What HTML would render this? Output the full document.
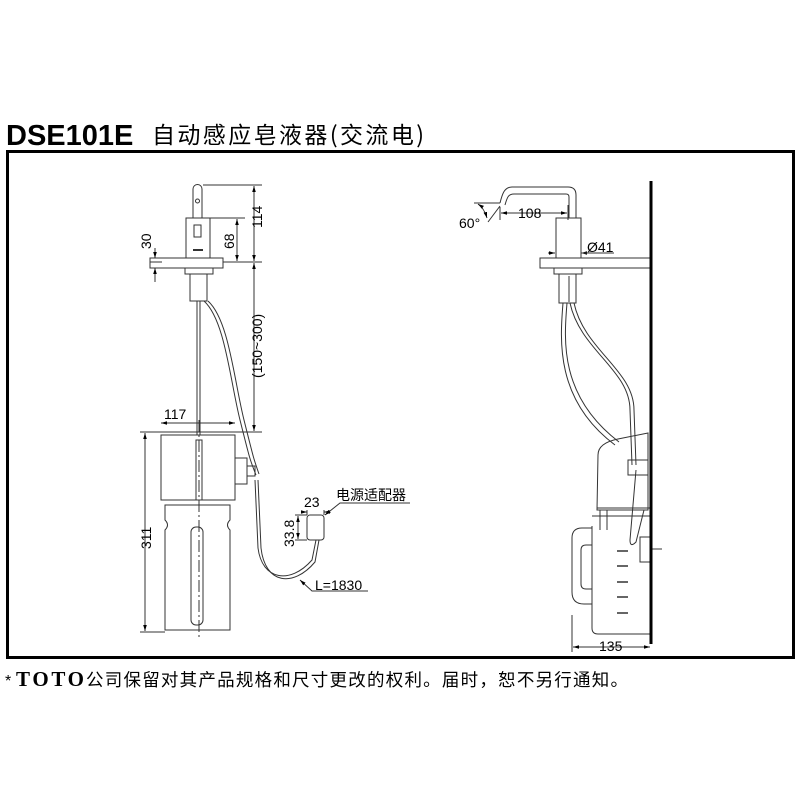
<!DOCTYPE html>
<html><head><meta charset="utf-8"><style>
body{margin:0;background:#fff;width:800px;height:800px;overflow:hidden}
svg{display:block}
text{font-family:"Liberation Sans","Noto Sans CJK SC",sans-serif;fill:#000}
</style></head><body>
<svg width="800" height="800" viewBox="0 0 800 800" xmlns="http://www.w3.org/2000/svg">
<defs>
<marker id="a" viewBox="0 0 10 10" refX="10" refY="5" markerWidth="6" markerHeight="6" orient="auto-start-reverse"><path d="M0,2 L10,5 L0,8z" fill="#000"/></marker>
</defs>
<text x="6" y="145" font-size="29" font-weight="bold">DSE101E</text>
<text x="152" y="143" style="font-size:23px;font-family:'Noto Sans CJK SC',sans-serif" textLength="272">自动感应皂液器(交流电)</text>
<rect x="7.5" y="151.5" width="786" height="506" fill="none" stroke="#000" stroke-width="3"/>
<text x="5" y="686" font-size="16">*</text>
<text x="16" y="686" style="font-size:21px;font-weight:bold;font-family:'Liberation Serif',serif" textLength="68">TOTO</text>
<text x="86" y="686" style="font-size:17.5px;font-family:'Noto Sans CJK SC',sans-serif" textLength="542">公司保留对其产品规格和尺寸更改的权利。届时，恕不另行通知。</text>

<g fill="none" stroke="#333" stroke-width="1">
<!-- LEFT VIEW -->
<path d="M193,218 V189 a4.5,4.5 0 0 1 9,0 V218"/>
<circle cx="197.5" cy="201" r="2"/>
<rect x="186" y="218" width="24" height="40"/>
<rect x="194" y="225" width="7" height="12"/>
<line x1="193" y1="250" x2="203" y2="250" stroke-width="2"/>
<rect x="150" y="258" width="73" height="10"/>
<rect x="185" y="268" width="28" height="6"/>
<rect x="190" y="274" width="17" height="27"/>
<line x1="197" y1="301" x2="197" y2="435"/><line x1="200" y1="301" x2="200" y2="435"/>
<path d="M204,301 C225,320 230,380 240,420 S250,460 256,475"/>
<path d="M208,301 C229,320 234,380 244,420 S254,460 259,474"/>
<path d="M161,435 H235 V500 H161z"/>
<path d="M160,432 H236"/>
<rect x="235" y="458" width="12" height="26"/>
<path d="M247,466 h8 v10 h-8"/>
<rect x="196" y="440" width="6" height="60"/>
<path d="M165,505 H230 V520 q-5,5 0,10 V630 H165 V530 q5,-5 0,-10z"/>
<rect x="191" y="527" width="12" height="98" rx="5"/>
<line x1="199" y1="420" x2="199" y2="640" stroke-dasharray="12,3,2,3"/>
<path d="M255,480 L258,548 C262,580 290,585 312,560 L316,540"/>
<path d="M258,480 L261,548 C265,584 293,588 315,562 L319,540"/>
<rect x="307" y="515" width="17" height="25" rx="3"/>
<!-- dims left -->
<line x1="203" y1="185" x2="262" y2="185"/>
<line x1="210" y1="218" x2="245" y2="218"/>
<line x1="223" y1="262" x2="262" y2="262"/>
<line x1="150" y1="262" x2="162" y2="262"/>
<line x1="254" y1="186" x2="254" y2="261" marker-start="url(#a)" marker-end="url(#a)"/>
<line x1="237" y1="219" x2="237" y2="261" marker-start="url(#a)" marker-end="url(#a)"/>
<line x1="155" y1="248" x2="155" y2="258" marker-end="url(#a)"/>
<line x1="155" y1="282" x2="155" y2="268" marker-end="url(#a)"/>
<line x1="254" y1="263" x2="254" y2="431" marker-start="url(#a)" marker-end="url(#a)"/>
<line x1="236" y1="432" x2="262" y2="432"/>
<line x1="161" y1="423" x2="235" y2="423" marker-start="url(#a)" marker-end="url(#a)"/>
<line x1="140" y1="432" x2="161" y2="432"/>
<line x1="140" y1="632" x2="165" y2="632"/>
<line x1="145" y1="433" x2="145" y2="631" marker-start="url(#a)" marker-end="url(#a)"/>
<line x1="307" y1="510" x2="307" y2="515"/><line x1="324" y1="510" x2="324" y2="515"/>
<line x1="301" y1="512" x2="307" y2="512" marker-end="url(#a)"/><line x1="330" y1="512" x2="324" y2="512" marker-end="url(#a)"/>
<line x1="295" y1="515" x2="307" y2="515"/><line x1="295" y1="540" x2="307" y2="540"/>
<line x1="298" y1="516" x2="298" y2="539" marker-start="url(#a)" marker-end="url(#a)"/>
<path d="M410,503 H340 L325,515" marker-end="url(#a)"/>
<path d="M368,591 H312 L300,580" marker-end="url(#a)"/>

<!-- RIGHT VIEW -->
<path d="M500,203 C502,195 504,187 512,187 H568 q8,0 8,8 V218"/>
<path d="M505,205 C507,198 508,194 514,194 H566 q3,0 3,3 V218"/>
<rect x="556" y="218" width="25" height="40"/>
<rect x="540" y="258" width="110" height="10"/>
<rect x="554" y="268" width="28" height="6"/>
<rect x="559" y="274" width="17" height="29"/>
<line x1="569" y1="276" x2="569" y2="302"/>
<path d="M563,303 C560,340 555,400 615,445"/>
<path d="M567,303 C564,340 559,396 619,442"/>
<path d="M570,303 C580,350 630,370 630,410 L632,465"/>
<path d="M574,303 C584,350 634,370 634,410 L636,465"/>
<path d="M598,455 q0,-12 20,-16 L648,433 V510 H597z"/>
<rect x="628" y="460" width="20" height="15"/>
<line x1="597" y1="508" x2="650" y2="508"/>
<path d="M592,516 H650 M600,510 v20 M607,510 v20"/>
<path d="M592,526 V628 q0,6 6,6 H650"/>
<path d="M592,528 H582 q-10,0 -10,10 V592 q0,12 12,12 H592 M592,545 H586 q-5,0 -5,5 V584 q0,5 5,5 H592"/>
<path d="M636,470 L630,540 q0,8 6,2 L644,510"/>
<rect x="640" y="537" width="10" height="25"/>
<line x1="652" y1="549" x2="662" y2="549"/>
<g stroke-width="1.5"><line x1="617" y1="551" x2="628" y2="551"/><line x1="617" y1="566" x2="628" y2="566"/><line x1="617" y1="582" x2="628" y2="582"/><line x1="617" y1="597" x2="628" y2="597"/><line x1="617" y1="613" x2="628" y2="613"/></g>
<!-- dims right -->
<line x1="500" y1="206" x2="488" y2="222"/>
<line x1="474" y1="203" x2="500" y2="203"/>
<path d="M478,204 q6,4 9,14" marker-start="url(#a)" marker-end="url(#a)"/>
<line x1="500" y1="207" x2="500" y2="220"/>
<line x1="568" y1="205" x2="568" y2="220"/>
<line x1="501" y1="213" x2="567" y2="213" marker-start="url(#a)" marker-end="url(#a)"/>
<line x1="548" y1="253" x2="555" y2="253" marker-end="url(#a)"/>
<line x1="590" y1="253" x2="581" y2="253" marker-end="url(#a)"/>
<line x1="581" y1="253" x2="614" y2="253"/>
<line x1="572" y1="615" x2="572" y2="652"/>
<line x1="573" y1="647" x2="650" y2="647" marker-start="url(#a)" marker-end="url(#a)"/>
</g>
<line x1="651" y1="181" x2="651" y2="644" stroke="#000" stroke-width="3"/>
<text font-size="14">
<tspan x="164" y="419">117</tspan>
<tspan x="336" y="500" style="font-family:'Noto Sans CJK SC',sans-serif">电源适配器</tspan>
<tspan x="304" y="507">23</tspan>
<tspan x="315" y="590">L=1830</tspan>
<tspan x="459" y="228">60°</tspan>
<tspan x="518" y="218">108</tspan>
<tspan x="587" y="252">Ø41</tspan>
<tspan x="599" y="651">135</tspan>
</text>
<g font-size="14">
<text transform="translate(151,249) rotate(-90)">30</text>
<text transform="translate(234,249) rotate(-90)">68</text>
<text transform="translate(262,228) rotate(-90)">114</text>
<text transform="translate(262,378) rotate(-90)">(150~300)</text>
<text transform="translate(151,549) rotate(-90)">311</text>
<text transform="translate(294,547) rotate(-90)">33.8</text>
</g>
</svg>
</body></html>
